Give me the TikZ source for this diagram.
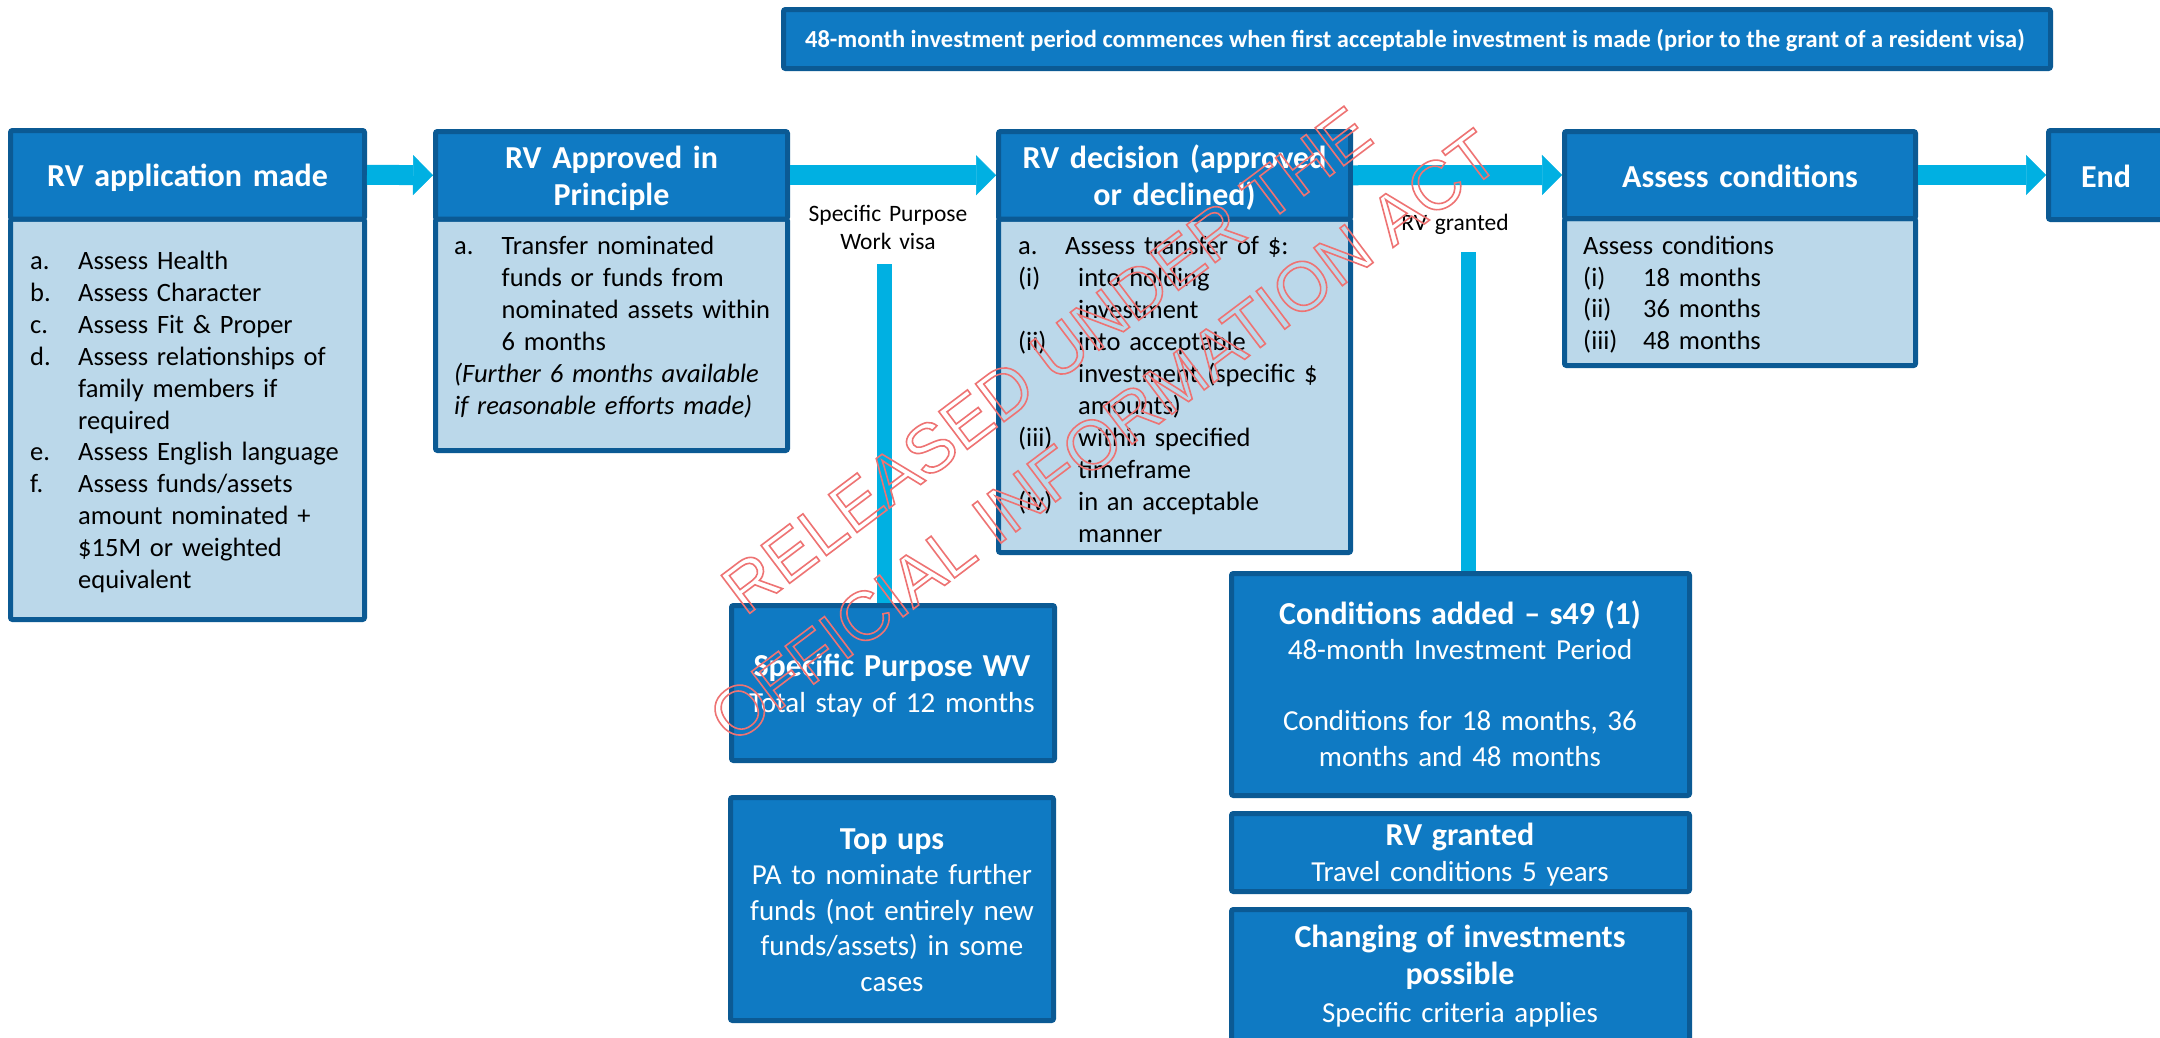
\documentclass[tikz,border=0pt]{standalone}
\usepackage{fontspec}
\setmainfont{Carlito}
\newfontfamily\wmfont{Liberation Sans}
\usetikzlibrary{arrows.meta}
\definecolor{hdr}{HTML}{0F7AC3}
\definecolor{bdr}{HTML}{0B5A94}
\definecolor{bodyc}{HTML}{BBD8EA}
\definecolor{arrc}{HTML}{00B0E2}
\definecolor{wmc}{HTML}{EE7373}
\newcommand{\hng}[3]{\makebox[#1][l]{#2}#3}
\begin{document}
\begin{tikzpicture}[x=1pt,y=-1pt,
  hbox/.style={draw=bdr, fill=hdr, line width=5pt, inner sep=0pt, rounded corners=2pt},
  bbox/.style={draw=bdr, fill=bodyc, line width=5pt, inner sep=0pt, rounded corners=2pt},
  htext/.style={text=white, font=\bfseries\fontsize{32}{37}\selectfont, text width=360pt, align=center, anchor=base, inner sep=0pt},
  ltext/.style={text=black, font=\fontsize{26.5}{31.9}\selectfont, text width=380pt, align=left, anchor=base west, inner sep=0pt},
  ctext/.style={text=white, font=\fontsize{29}{35.5}\selectfont, text width=440pt, align=center, anchor=base, inner sep=0pt},
  lab/.style={text=black, font=\fontsize{23.5}{28}\selectfont, text width=220pt, align=center, anchor=base, inner sep=0pt},
  arr/.style={draw=arrc, line width=20pt, -{Triangle[length=20pt,width=40pt,line width=0.5pt]}},
  vbar/.style={draw=arrc, line width=15pt}
]
\clip (0,0) rectangle (2160,1037);
\fill[white] (0,0) rectangle (2160,1037);

% top banner
\node[hbox, minimum width=1267pt, minimum height=59pt] (ban) at (1417,39) {};
\node[text=white, font=\bfseries\fontsize{24.5}{28}\selectfont, anchor=base, inner sep=0pt] (bant) at (1415,47)
  {48-month investment period commences when first acceptable investment is made (prior to the grant of a resident visa)};

% box 1
\node[bbox, minimum width=354pt, minimum height=400.5pt] (b1) at (187.5,419.25) {};
\node[hbox, minimum width=354pt, minimum height=88.5pt] (h1) at (187.5,174.75) {};
\node[htext] (h1t) at (187.5,186) {RV application made};
\node[ltext] (b1t) at (30,269.5) {%
\hng{48pt}{a.}{Assess Health}\\
\hng{48pt}{b.}{Assess Character}\\
\hng{48pt}{c.}{Assess Fit \& Proper}\\
\hng{48pt}{d.}{Assess relationships of}\\
\hng{48pt}{}{family members if}\\
\hng{48pt}{}{required}\\
\hng{48pt}{e.}{Assess English language}\\
\hng{48pt}{f.}{Assess funds/assets}\\
\hng{48pt}{}{amount nominated +}\\
\hng{48pt}{}{\$15M or weighted}\\
\hng{48pt}{}{equivalent}};

% box 2
\node[bbox, minimum width=352pt, minimum height=231.5pt] (b2) at (611.5,334.75) {};
\node[hbox, minimum width=352pt, minimum height=87.5pt] (h2) at (611.5,175.25) {};
\node[htext] (h2t) at (611.5,168) {RV Approved in\\Principle};
\node[ltext] (b2t) at (454,254.5) {%
\hng{47.5pt}{a.}{Transfer nominated}\\
\hng{47.5pt}{}{funds or funds from}\\
\hng{47.5pt}{}{nominated assets within}\\
\hng{47.5pt}{}{6 months}\\
\textit{(Further 6 months available}\\
\textit{if reasonable efforts made)}};

% box 3
\node[bbox, minimum width=352pt, minimum height=333.5pt] (b3) at (1174.5,385.75) {};
\node[hbox, minimum width=352pt, minimum height=87.5pt] (h3) at (1174.5,175.25) {};
\node[htext] (h3t) at (1174.5,168) {RV decision (approved\\or declined)};
\node[ltext, font=\fontsize{26.5}{32}\selectfont] (b3t) at (1018,254.5) {%
\hng{47pt}{a.}{Assess transfer of \$:}\\
\hng{60pt}{(i)}{into holding}\\
\hng{60pt}{}{investment}\\
\hng{60pt}{(ii)}{into acceptable}\\
\hng{60pt}{}{investment (specific \$}\\
\hng{60pt}{}{amounts)}\\
\hng{60pt}{(iii)}{within specified}\\
\hng{60pt}{}{timeframe}\\
\hng{60pt}{(iv)}{in an acceptable}\\
\hng{60pt}{}{manner}};

% box 4
\node[bbox, minimum width=351pt, minimum height=147pt] (b4) at (1740,292) {};
\node[hbox, minimum width=351pt, minimum height=87pt] (h4) at (1740,175) {};
\node[htext] (h4t) at (1740,187) {Assess conditions};
\node[ltext, font=\fontsize{26.5}{31.5}\selectfont] (b4t) at (1583,254.5) {%
Assess conditions\\
\hng{60pt}{(i)}{18 months}\\
\hng{60pt}{(ii)}{36 months}\\
\hng{60pt}{(iii)}{48 months}};

% end box
\node[hbox, minimum width=151.5pt, minimum height=89pt] (hend) at (2124.25,175) {};
\node[htext, text width=100pt] (hendt) at (2106,187) {End};

% arrows
\draw[arr] (h1.east) -- (h2.west);
\draw[arr] (h2.east) -- (h3.west);
\draw[arr] (h3.east) -- (h4.west);
\draw[arr] (h4.east) -- (hend.west);

% labels
\node[lab] (spl) at (888,221.5) {Specific Purpose\\Work visa};
\node[lab] (rvl) at (1455,230.5) {RV granted};

% lower boxes
\node[hbox, minimum width=323pt, minimum height=155pt] (spwv) at (893,683) {};
\node[ctext, font=\fontsize{29}{36}\selectfont] (spwvt) at (892,676) {{\bfseries\fontsize{32}{36}\selectfont Specific Purpose WV}\\Total stay of 12 months};
\node[hbox, minimum width=323pt, minimum height=223pt] (tops) at (892,909) {};
\node[ctext] (topst) at (892,849) {{\bfseries\fontsize{32}{35.5}\selectfont Top ups}\\PA to nominate further\\funds (not entirely new\\funds/assets) in some\\cases};

\node[hbox, minimum width=458pt, minimum height=222pt] (cond) at (1460.5,684.5) {};
\node[ctext] (condt) at (1460,624) {{\bfseries\fontsize{32}{35.5}\selectfont Conditions added – s49 (1)}\\48-month Investment Period\\\mbox{}\\Conditions for 18 months, 36\\months and 48 months};
\node[hbox, minimum width=458pt, minimum height=78pt] (rvgb) at (1460.5,852.5) {};
\node[ctext, font=\fontsize{29}{36}\selectfont] (rvgbt) at (1460,845) {{\bfseries\fontsize{32}{36}\selectfont RV granted}\\Travel conditions 5 years};
\node[hbox, minimum width=458pt, minimum height=135.5pt] (chg) at (1460.5,977.25) {};
\node[ctext, font=\fontsize{29}{37.5}\selectfont] (chgt) at (1460,947) {{\bfseries\fontsize{32}{37.5}\selectfont Changing of investments\\possible}\\Specific criteria applies};

% vertical connectors
\coordinate (bar1top) at (884,264);
\coordinate (bar2top) at (1468,252);
\draw[vbar] (bar1top) -- (spwv.north -| bar1top);
\draw[vbar] (bar2top) -- (cond.north -| bar2top);

% watermark
\node[rotate=37, text=wmc, font=\wmfont\fontsize{69}{95}\selectfont, align=center, inner sep=0pt] (wm) at (1075,398)
  {\special{pdf:literal direct 1 Tr 1.6 w}RELEASED UNDER THE\\OFFICIAL INFORMATION ACT\special{pdf:literal direct 0 Tr}};
\end{tikzpicture}
\end{document}
